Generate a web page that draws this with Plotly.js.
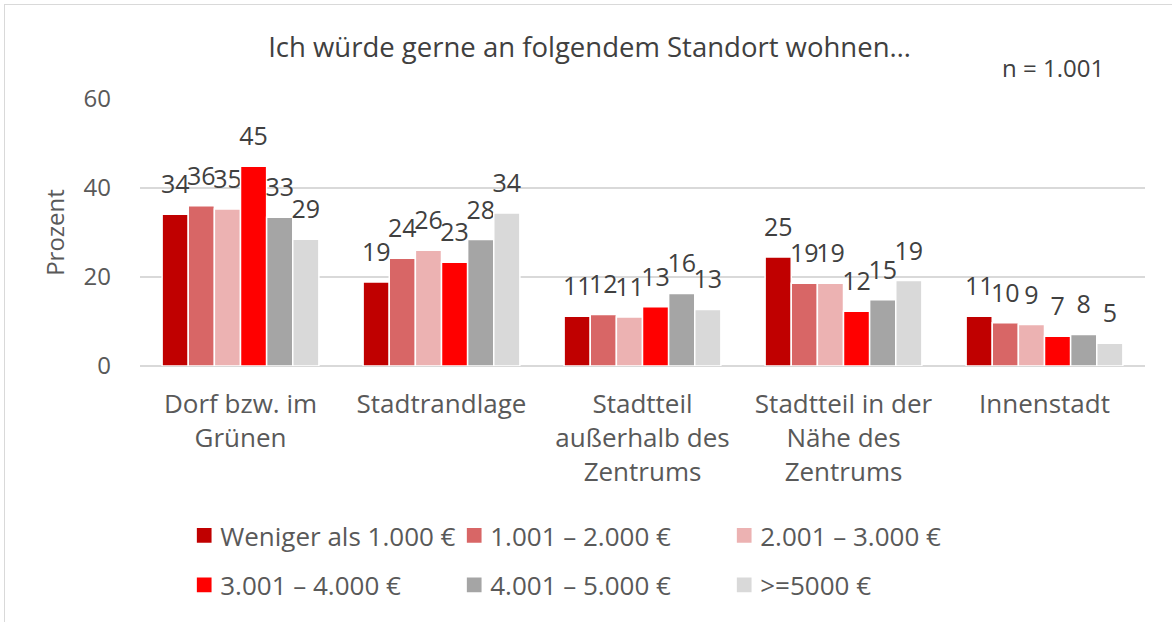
<!DOCTYPE html>
<html><head><meta charset="utf-8">
<script src="https://cdn.plot.ly/plotly-3.0.1.min.js"></script>
<style>
html,body{margin:0;padding:0;background:#fff;}
#frame{position:absolute;left:4px;top:4px;width:1170px;height:620px;border:1px solid #d9d9d9;box-sizing:border-box;}
#chart{position:absolute;left:0;top:0;width:1172px;height:622px;}
</style>
</head><body>
<div id="frame"></div>
<div id="chart"></div>
<script>
const categories = ["Dorf bzw. im<br>Grünen", "Stadtrandlage", "Stadtteil<br>außerhalb des<br>Zentrums", "Stadtteil in der<br>Nähe des<br>Zentrums", "Innenstadt"];
const seriesNames = ["Weniger als 1.000 €", "1.001 – 2.000 €", "2.001 – 3.000 €", "3.001 – 4.000 €", "4.001 – 5.000 €", ">=5000 €"];
const s1 = [34.1, 18.9, 11.2, 24.5, 11.2];
const s2 = [36.0, 24.2, 11.6, 18.6, 9.7];
const s3 = [35.3, 26.0, 11.0, 18.6, 9.3];
const s4 = [44.9, 23.3, 13.3, 12.3, 6.7];
const s5 = [33.4, 28.4, 16.3, 14.9, 7.1];
const s6 = [28.5, 34.4, 12.7, 19.2, 5.1];
const l1 = ["34", "19", "11", "25", "11"];
const l2 = ["36", "24", "12", "19", "10"];
const l3 = ["35", "26", "11", "19", "9"];
const l4 = ["45", "23", "13", "12", "7"];
const l5 = ["33", "28", "16", "15", "8"];
const l6 = ["29", "34", "13", "19", "5"];
const colors = ["#C00000", "#D86666", "#ECB2B2", "#FF0000", "#A5A5A5", "#D9D9D9"];

const values = [s1, s2, s3, s4, s5, s6];
const labels = [l1, l2, l3, l4, l5, l6];
const FONT = "'Open Sans', 'Noto Sans', sans-serif";

const traces = values.map((v, i) => ({
  type: "bar",
  name: seriesNames[i],
  x: categories,
  y: v,
  text: labels[i],
  textposition: "outside",
  constraintext: "none",
  cliponaxis: false,
  textfont: {family: FONT, size: 25, color: "#404040"},
  marker: {color: colors[i], line: {color: "#ffffff", width: 1.5}},
  hoverinfo: "none",
  legend: i < 3 ? "legend" : "legend2"
}));

const legendCommon = {
  orientation: "h",
  xanchor: "left",
  yanchor: "middle",
  font: {family: FONT, size: 26, color: "#595959"},
  entrywidth: 225,
  entrywidthmode: "pixels",
  traceorder: "normal",
  bgcolor: "rgba(0,0,0,0)"
};

const layout = {
  width: 1172,
  height: 622,
  paper_bgcolor: "rgba(0,0,0,0)",
  plot_bgcolor: "rgba(0,0,0,0)",
  margin: {l: 140, r: 27, t: 99, b: 256},
  barmode: "group",
  bargap: 0.22,
  bargroupgap: 0,
  font: {family: FONT, color: "#595959"},
  title: {
    text: "Ich würde gerne an folgendem Standort wohnen…",
    font: {family: FONT, size: 27.5, color: "#404040"},
    xref: "container", x: 0.503, xanchor: "center",
    yref: "container", y: 1 - 47/622, yanchor: "middle"
  },
  xaxis: {
    tickfont: {family: FONT, size: 26, color: "#595959"},
    showgrid: false,
    showline: false,
    ticks: "",
    ticklabelstandoff: 20,
    fixedrange: true
  },
  yaxis: {
    range: [0, 60],
    tickvals: [0, 20, 40, 60],
    tickfont: {family: FONT, size: 24, color: "#595959"},
    showgrid: true,
    gridcolor: "#d9d9d9",
    gridwidth: 1.3,
    zeroline: true,
    zerolinecolor: "#d9d9d9",
    zerolinewidth: 1.3,
    ticklabelstandoff: 28,
    title: {text: "Prozent", font: {family: FONT, size: 24, color: "#595959"}, standoff: 12}
  },
  legend: Object.assign({}, legendCommon, {x: 0.040, y: -0.635}),
  legend2: Object.assign({}, legendCommon, {x: 0.040, y: -0.82}),
  annotations: [{
    text: "n = 1.001",
    xref: "paper", yref: "paper",
    x: (1053 - 140) / 1005, y: (366 - 68) / 267,
    showarrow: false,
    font: {family: FONT, size: 24, color: "#404040"},
    xanchor: "center", yanchor: "middle"
  }],
  showlegend: true
};

Plotly.newPlot("chart", traces, layout, {displayModeBar: false, staticPlot: true}).then(gd => {
  // lift value labels a little further above the bars, like the reference
  gd.querySelectorAll("text.bartext").forEach(t => {
    t.setAttribute("transform", "translate(0,-11) " + (t.getAttribute("transform") || ""));
  });
  // slightly larger legend squares, as in the reference
  gd.querySelectorAll(".legendpoints path").forEach(p => {
    p.setAttribute("transform", (p.getAttribute("transform") || "") + " translate(4,0) scale(1.4)");
  });
});
</script>
</body></html>
